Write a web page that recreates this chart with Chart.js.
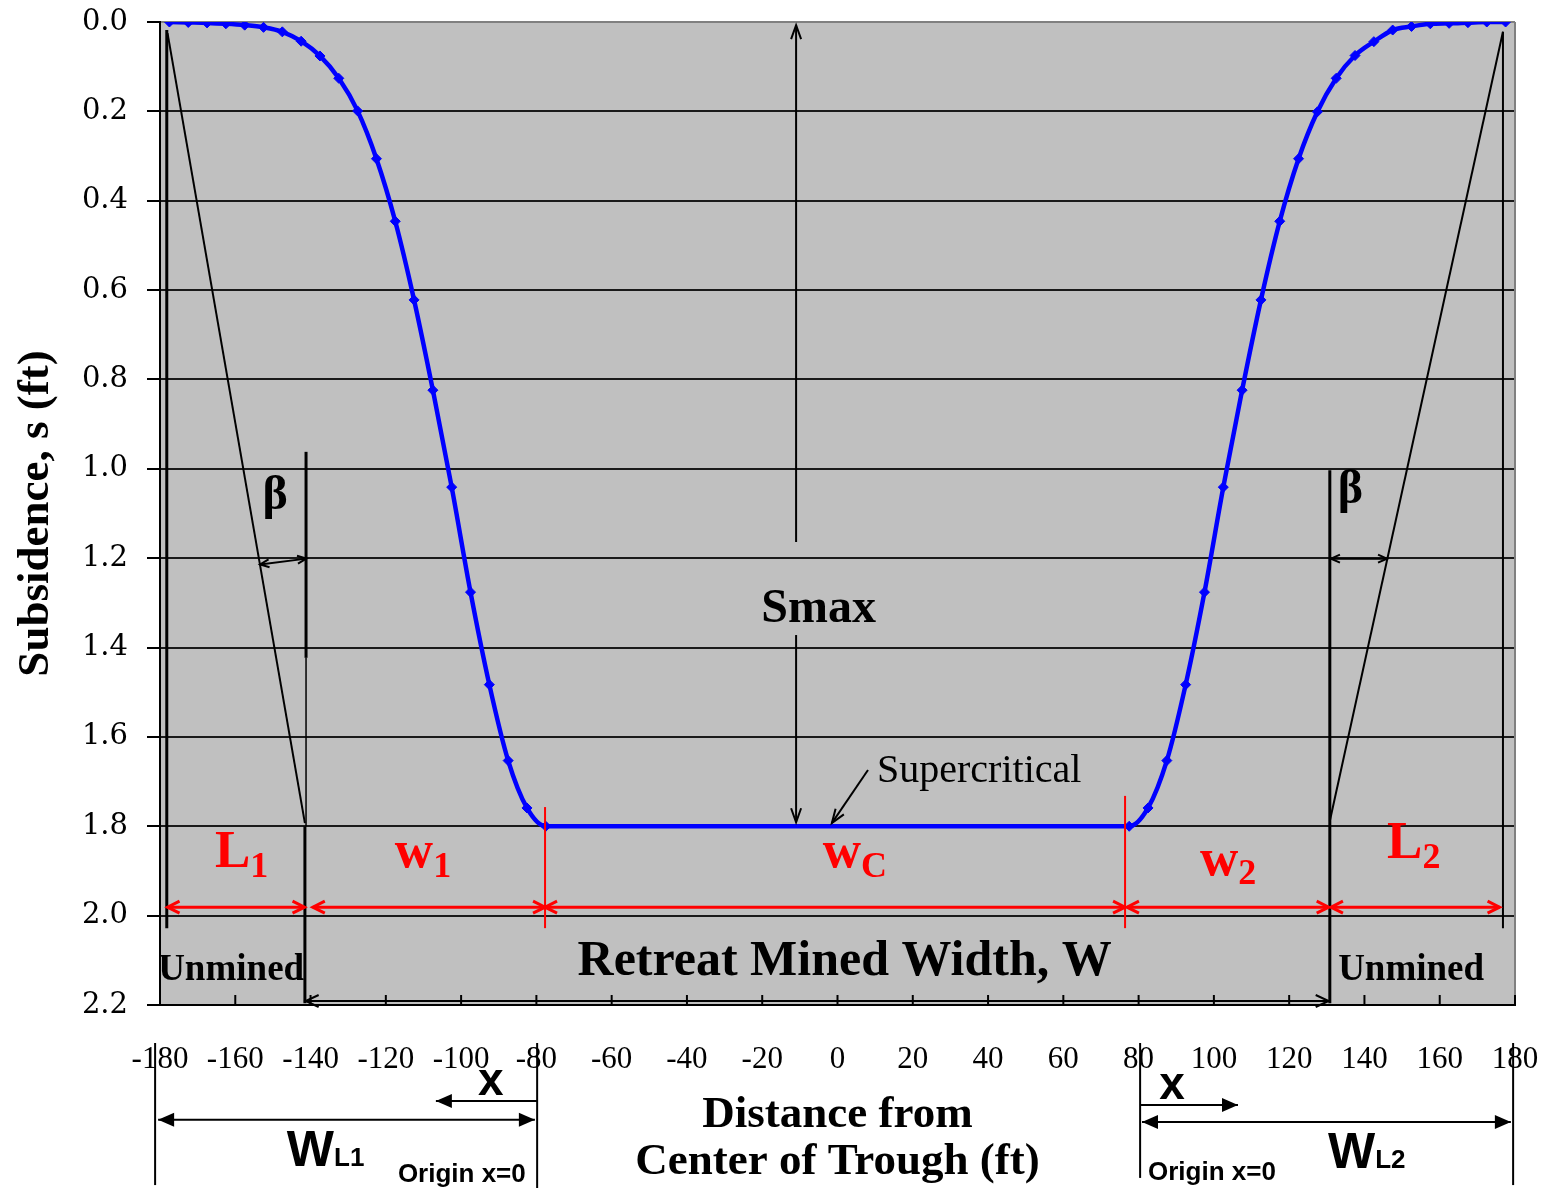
<!DOCTYPE html>
<html>
<head>
<meta charset="utf-8">
<script src="https://cdn.jsdelivr.net/npm/chart.js@4.4.1/dist/chart.umd.min.js"></script>
<style>
  html, body { margin: 0; padding: 0; background: #fff; }
  #wrap { width: 1546px; height: 1188px; }
</style>
</head>
<body>
<div id="wrap"><canvas id="chart"></canvas></div>
<script>
// distance from trough centre (ft) / subsidence (ft)
const distLeft = [-177.5, -172.5, -167.5, -162.5, -157.5, -152.5, -147.5, -142.5, -137.5, -132.5, -127.5,
                  -122.5, -117.5, -112.5, -107.5, -102.5, -97.5, -92.5, -87.5, -82.5, -77.5];
const subsLeft = [0.000, 0.001, 0.002, 0.004, 0.007, 0.012, 0.022, 0.043, 0.076, 0.126, 0.199,
                  0.306, 0.446, 0.622, 0.824, 1.041, 1.276, 1.483, 1.653, 1.759, 1.800];
const distRight = [77.5, 82.5, 87.5, 92.5, 97.5, 102.5, 107.5, 112.5, 117.5, 122.5, 127.5,
                   132.5, 137.5, 142.5, 147.5, 152.5, 157.5, 162.5, 167.5, 172.5, 177.5];
const subsRight = [1.800, 1.759, 1.653, 1.483, 1.276, 1.041, 0.824, 0.622, 0.446, 0.306, 0.201,
                   0.126, 0.075, 0.044, 0.018, 0.010, 0.004, 0.003, 0.0015, 0.000, 0.000];

const xTickLabels = ['-180', '-160', '-140', '-120', '-100', '-80', '-60', '-40', '-20', '0',
                     '20', '40', '60', '80', '100', '120', '140', '160', '180'];
const yTickLabels = ['0.0', '0.2', '0.4', '0.6', '0.8', '1.0', '1.2', '1.4', '1.6', '1.8', '2.0', '2.2'];

const SERIF = "'Liberation Serif', 'Times New Roman', serif";
const SANS = "'Liberation Sans', Arial, sans-serif";

const points = [];
distLeft.forEach((d, i) => points.push({ x: d, y: subsLeft[i] }));
distRight.forEach((d, i) => points.push({ x: d, y: subsRight[i] }));

function seg(ctx, x1, y1, x2, y2) {
    ctx.beginPath();
    ctx.moveTo(x1, y1);
    ctx.lineTo(x2, y2);
    ctx.stroke();
}

function head(ctx, tx, ty, fx, fy, len, half, filled) {
    const a = Math.atan2(ty - fy, tx - fx);
    const bx = tx - len * Math.cos(a), by = ty - len * Math.sin(a);
    const px = -Math.sin(a) * half, py = Math.cos(a) * half;
    ctx.beginPath();
    ctx.moveTo(bx + px, by + py);
    ctx.lineTo(tx, ty);
    ctx.lineTo(bx - px, by - py);
    if (filled) { ctx.closePath(); ctx.fill(); } else ctx.stroke();
}

function arrow(ctx, x1, y1, x2, y2, o) {
    seg(ctx, x1, y1, x2, y2);
    if (o.start) head(ctx, x1, y1, x2, y2, o.len, o.half, o.filled);
    if (o.end) head(ctx, x2, y2, x1, y1, o.len, o.half, o.filled);
}

function subText(ctx, main, sub, x, yb, ysb, size, subSize, family) {
    ctx.textAlign = 'left';
    ctx.textBaseline = 'alphabetic';
    ctx.font = `bold ${size}px ${family}`;
    ctx.fillText(main, x, yb);
    const w = ctx.measureText(main).width;
    ctx.font = `bold ${subSize}px ${family}`;
    ctx.fillText(sub, x + w, ysb);
}

const plotBackground = {
    id: 'plotBackground',
    beforeDraw(chart) {
        const { ctx, chartArea: a } = chart;
        ctx.save();
        ctx.fillStyle = '#c0c0c0';
        ctx.fillRect(a.left, a.top, a.right - a.left, a.bottom - a.top);
        ctx.restore();
    },
    beforeDatasetsDraw(chart) {
        const { ctx, chartArea: a } = chart;
        const xs = chart.scales.x;
        ctx.save();
        // plot frame on the right
        ctx.strokeStyle = '#808080';
        ctx.lineWidth = 2;
        seg(ctx, a.right, a.top, a.right, a.bottom);
        // x ticks point inwards
        ctx.strokeStyle = '#000';
        xs.ticks.forEach(t => {
            const px = xs.getPixelForValue(t.value);
            seg(ctx, px, a.bottom, px, a.bottom - 10);
        });
        ctx.restore();
    }
};

// sketch of the trough geometry drawn over the curve
const troughNotes = {
    id: 'troughNotes',
    afterDatasetsDraw(chart) {
        const ctx = chart.ctx;
        const X = v => chart.scales.x.getPixelForValue(v);
        const Y = v => chart.scales.y.getPixelForValue(v);
        const L = (x1, y1, x2, y2, w) => { ctx.lineWidth = w; seg(ctx, X(x1), Y(y1), X(x2), Y(y2)); };
        const A = (x1, y1, x2, y2, w, o) => { ctx.lineWidth = w; arrow(ctx, X(x1), Y(y1), X(x2), Y(y2), o); };
        const open = { start: true, end: true, len: 12, half: 6, filled: false };

        ctx.save();
        ctx.strokeStyle = '#000';
        ctx.fillStyle = '#000';
        ctx.lineCap = 'butt';

        // left edge of panel and draw angle
        L(-178.2, 0.018, -178.2, 2.028, 3);
        L(-178.0, 0.025, -141.5, 1.793, 2);
        L(-141.2, 0.962, -141.2, 1.423, 3);
        L(-141.2, 1.423, -141.2, 1.80, 1.5);
        L(-141.5, 1.80, -141.5, 2.196, 3);
        A(-153.4, 1.214, -141.1, 1.201, 2, { start: true, end: true, len: 9, half: 4, filled: false });

        // right edge of panel and draw angle
        L(130.8, 1.003, 130.8, 2.196, 3);
        L(176.8, 0.022, 176.8, 2.028, 2);
        L(176.8, 0.022, 130.8, 1.788, 2);
        A(131.1, 1.201, 146.0, 1.201, 2, { start: true, end: true, len: 9, half: 4, filled: false });

        // retreat mined width
        A(-141.3, 2.191, 130.5, 2.191, 2, { start: true, end: true, len: 13, half: 6, filled: false });

        // Smax
        A(-11.0, 0.007, -11.0, 1.164, 2, { start: true, end: false, len: 14, half: 5, filled: false });
        A(-11.0, 1.372, -11.0, 1.791, 2, { start: false, end: true, len: 14, half: 5, filled: false });
        A(8.1, 1.674, -1.5, 1.793, 2, { start: false, end: true, len: 14, half: 5, filled: false });

        // red width dimensions
        ctx.strokeStyle = '#ff0000';
        ctx.fillStyle = '#ff0000';
        L(-77.7, 1.757, -77.7, 2.028, 2);
        L(76.4, 1.732, 76.4, 2.028, 2);
        A(-178.0, 1.981, -141.6, 1.981, 3, open);
        A(-139.4, 1.981, -77.7, 1.981, 3, open);
        A(-77.7, 1.981, 76.4, 1.981, 3, open);
        A(76.9, 1.981, 130.5, 1.981, 3, open);
        A(131.1, 1.981, 175.9, 1.981, 3, open);

        subText(ctx, 'L', '1', X(-165.4), Y(1.891), Y(1.914), 53, 36, SERIF);
        subText(ctx, 'w', '1', X(-117.6), Y(1.891), Y(1.914), 53, 36, SERIF);
        subText(ctx, 'w', 'C', X(-3.9), Y(1.891), Y(1.914), 53, 36, SERIF);
        subText(ctx, 'w', '2', X(96.3), Y(1.909), Y(1.930), 53, 36, SERIF);
        subText(ctx, 'L', '2', X(146.0), Y(1.871), Y(1.893), 53, 36, SERIF);

        // black labels inside the plot
        ctx.fillStyle = '#000';
        ctx.textBaseline = 'alphabetic';
        ctx.textAlign = 'center';
        ctx.font = `bold 48px ${SERIF}`;
        ctx.fillText('\u03b2', X(-149.4), Y(1.090));
        ctx.fillText('\u03b2', X(136.3), Y(1.077));
        ctx.fillText('Smax', X(-5.0), Y(1.343));
        ctx.font = `bold 50px ${SERIF}`;
        ctx.fillText('Retreat Mined Width, W', X(1.9), Y(2.133));
        ctx.font = `bold 37px ${SERIF}`;
        ctx.fillText('Unmined', X(-161.1), Y(2.144));
        ctx.fillText('Unmined', X(152.4), Y(2.144));
        ctx.textAlign = 'left';
        ctx.font = `40px ${SERIF}`;
        ctx.fillText('Supercritical', X(10.5), Y(1.701));

        // panel origins under the axis
        ctx.strokeStyle = '#000';
        const filled1 = { start: true, end: true, len: 16, half: 7, filled: true };
        const filled2 = { start: false, end: true, len: 16, half: 7, filled: true };
        L(-181.3, 2.285, -181.3, 2.603, 2);
        L(-79.8, 2.285, -79.8, 2.610, 2);
        A(-180.5, 2.457, -80.4, 2.457, 2, filled1);
        A(-79.8, 2.415, -106.7, 2.415, 2, filled2);
        L(80.4, 2.285, 80.4, 2.587, 2);
        L(179.5, 2.285, 179.5, 2.603, 2);
        A(80.9, 2.462, 178.9, 2.462, 2, filled1);
        A(80.4, 2.424, 106.4, 2.424, 2, filled2);

        ctx.textAlign = 'center';
        ctx.font = `bold 46px ${SANS}`;
        ctx.fillText('x', X(-92.1), Y(2.402));
        ctx.fillText('x', X(88.9), Y(2.411));
        subText(ctx, 'W', 'L1', X(-146.3), Y(2.560), Y(2.560), 50, 26, SANS);
        subText(ctx, 'W', 'L2', X(130.3), Y(2.565), Y(2.565), 50, 26, SANS);
        ctx.textAlign = 'left';
        ctx.font = `bold 26px ${SANS}`;
        ctx.fillText('Origin x=0', X(-116.8), Y(2.596));
        ctx.fillText('Origin x=0', X(82.5), Y(2.592));

        ctx.restore();
    }
};

new Chart(document.getElementById('chart'), {
    type: 'line',
    data: {
        datasets: [{
            label: 'Subsidence',
            data: points,
            borderColor: '#0000ff',
            backgroundColor: '#0000ff',
            borderWidth: 4.5,
            cubicInterpolationMode: 'monotone',
            pointStyle: 'rectRot',
            pointRadius: 5,
            pointBorderWidth: 1,
            fill: false
        }]
    },
    options: {
        responsive: true,
        maintainAspectRatio: false,
        animation: false,
        layout: { padding: { top: 22, right: 31, left: 0, bottom: 0 } },
        plugins: {
            legend: { display: false },
            tooltip: { enabled: false }
        },
        scales: {
            x: {
                type: 'linear',
                min: -180,
                max: 180,
                ticks: {
                    stepSize: 20,
                    autoSkip: false,
                    maxRotation: 0,
                    padding: 36,
                    color: '#000',
                    font: { family: SERIF, size: 31 },
                    callback: v => xTickLabels[Math.round((v + 180) / 20)]
                },
                grid: { drawOnChartArea: false, drawTicks: false },
                border: { color: '#000', width: 2 },
                title: {
                    display: true,
                    text: ['Distance from', 'Center of Trough (ft)'],
                    color: '#000',
                    font: { family: SERIF, size: 45, weight: 'bold', lineHeight: 1.05 },
                    padding: { top: 0, bottom: 2 }
                },
                // fixed box; label overflow is left to the layout padding
                afterFit: s => { s.height = 183; s.paddingLeft = 0; s.paddingRight = 0; }
            },
            y: {
                min: 0,
                max: 2.2,
                reverse: true,
                ticks: {
                    stepSize: 0.2,
                    padding: 19,
                    color: '#000',
                    font: { family: "'DejaVu Serif', serif", size: 29 },
                    callback: v => yTickLabels[Math.round(v / 0.2)]
                },
                grid: {
                    color: c => (c.tick && c.tick.value === 0) ? '#808080' : '#1a1a1a',
                    lineWidth: 2,
                    tickLength: 13,
                    tickColor: '#000',
                    tickWidth: 2
                },
                border: { color: '#000', width: 2 },
                title: {
                    display: true,
                    text: 'Subsidence, s (ft)',
                    color: '#000',
                    font: { family: SERIF, size: 45, weight: 'bold' },
                    padding: { top: 9, bottom: 0 }
                },
                afterFit: s => { s.width = 160; s.paddingTop = 0; s.paddingBottom = 0; }
            }
        }
    },
    plugins: [plotBackground, troughNotes]
});
</script>
</body>
</html>
